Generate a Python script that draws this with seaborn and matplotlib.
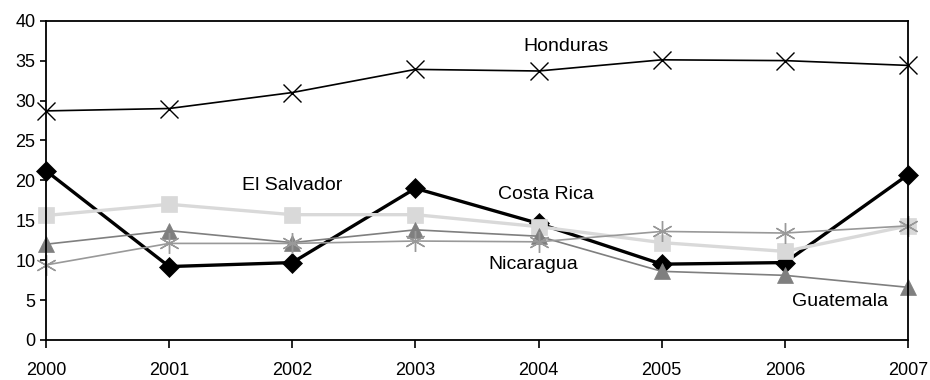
import matplotlib
matplotlib.use("Agg")
import matplotlib.pyplot as plt
import seaborn as sns
import pandas as pd

years = [2000, 2001, 2002, 2003, 2004, 2005, 2006, 2007]
costa_rica = [21.2, 9.2, 9.7, 19.0, 14.6, 9.5, 9.7, 20.7]
el_salvador = [15.6, 17.0, 15.7, 15.7, 14.2, 12.2, 11.1, 14.3]
guatemala = [12.0, 13.7, 12.2, 13.8, 13.0, 8.6, 8.1, 6.6]
nicaragua = [9.4, 12.1, 12.1, 12.4, 12.3, 13.6, 13.4, 14.3]
honduras = [28.7, 29.0, 31.0, 33.9, 33.7, 35.1, 35.0, 34.4]

series = {
    "Costa Rica": costa_rica,
    "El Salvador": el_salvador,
    "Guatemala": guatemala,
    "Nicaragua": nicaragua,
    "Honduras": honduras,
}

styles = {
    "Costa Rica": dict(color="black", marker="D", lw=2.4, ms=10),
    "El Salvador": dict(color="#d9d9d9", marker="s", lw=2.4, ms=12),
    "Guatemala": dict(color="#7f7f7f", marker="^", lw=1.2, ms=12),
    "Nicaragua": dict(color="#999999", marker=(6, 2, 0), lw=1.2, ms=15),
    "Honduras": dict(color="black", marker="x", lw=1.2, ms=13),
}

labels = [
    ("Honduras", 2004.22, 36.8),
    ("El Salvador", 2002.0, 19.3),
    ("Costa Rica", 2004.06, 18.2),
    ("Nicaragua", 2003.96, 9.5),
    ("Guatemala", 2006.45, 4.8),
]

df = pd.DataFrame(
    [(name, y, v) for name, vals in series.items() for y, v in zip(years, vals)],
    columns=["country", "year", "value"],
)

sns.set_style("ticks")
plt.rcParams["font.family"] = ["Liberation Sans", "DejaVu Sans"]

fig = plt.figure(figsize=(9.3, 3.8), dpi=100)
ax = fig.add_axes([46 / 930, 1 - 340 / 380, (908 - 46) / 930, (340 - 20.7) / 380])

for name in series:
    st = styles[name]
    sns.lineplot(
        data=df[df["country"] == name], x="year", y="value", ax=ax,
        color=st["color"], linewidth=st["lw"], marker=st["marker"],
        markersize=st["ms"], markeredgecolor=st["color"],
        markeredgewidth=1.0 if name in ("Nicaragua", "Honduras") else 0.5,
        legend=False, estimator=None,
    )

for text, x, y in labels:
    ax.text(x, y, text, ha="center", va="center", fontsize=14, color="black")

ax.set_xlim(2000, 2007)
ax.set_ylim(0, 40)
ax.set_xticks(years)
ax.set_yticks(range(0, 41, 5))
ax.set_xlabel("")
ax.set_ylabel("")
for s in ax.spines.values():
    s.set_visible(True)
    s.set_color("black")
    s.set_linewidth(1.3)
ax.tick_params(axis="both", labelsize=13, colors="black", width=1.2, direction="out")
ax.tick_params(axis="x", length=6, pad=10)
ax.tick_params(axis="y", length=4.5, pad=3)
for line in ax.lines:
    line.set_clip_on(False)

fig.savefig("out.png", dpi=100)
